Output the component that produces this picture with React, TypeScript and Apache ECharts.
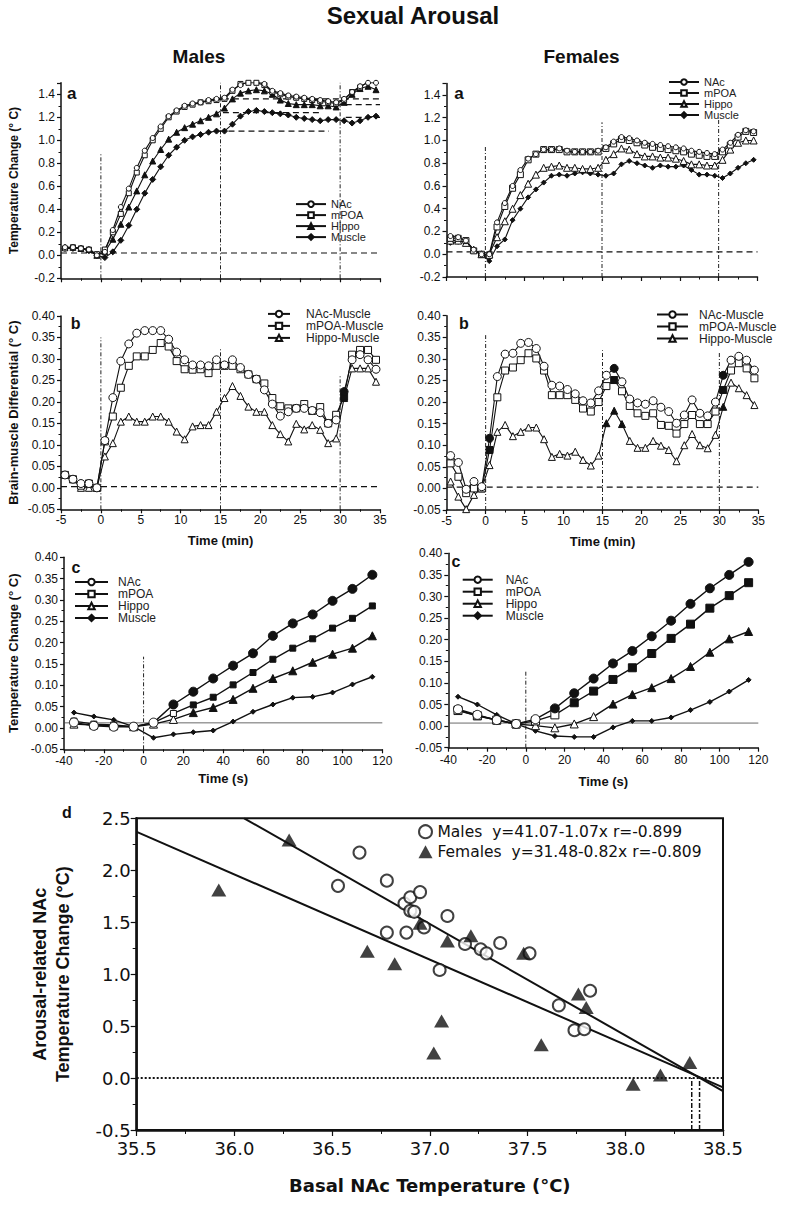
import React, { useEffect, useRef } from "react";
import * as echarts from "echarts";

// ---------- DATA ----------
const tMin = [-4.5, -3.5, -2.5, -1.5, -0.5, 0.5, 1.5, 2.5, 3.5, 4.5, 5.5, 6.5, 7.5, 8.5, 9.5, 10.5, 11.5, 12.5, 13.5, 14.5, 15.5, 16.5, 17.5, 18.5, 19.5, 20.5, 21.5, 22.5, 23.5, 24.5, 25.5, 26.5, 27.5, 28.5, 29.5, 30.5, 31.5, 32.5, 33.5, 34.5];
const tSec = [-35, -25, -15, -5, 5, 15, 25, 35, 45, 55, 65, 75, 85, 95, 105, 115];

// panel a, males (temperature change, °C)
const aMaleNAc = [0.07, 0.07, 0.06, 0.05, 0.0, 0.03, 0.22, 0.42, 0.58, 0.76, 0.91, 1.02, 1.12, 1.21, 1.26, 1.3, 1.32, 1.33, 1.35, 1.36, 1.37, 1.44, 1.48, 1.51, 1.51, 1.49, 1.43, 1.41, 1.39, 1.38, 1.37, 1.36, 1.35, 1.34, 1.33, 1.36, 1.42, 1.47, 1.5, 1.5];
const aMaleMPOA = [0.06, 0.07, 0.06, 0.05, 0.01, 0.05, 0.2, 0.36, 0.54, 0.72, 0.87, 1.0, 1.1, 1.2, 1.25, 1.29, 1.31, 1.33, 1.34, 1.35, 1.36, 1.43, 1.49, 1.5, 1.5, 1.48, 1.42, 1.4, 1.38, 1.37, 1.36, 1.35, 1.34, 1.33, 1.32, 1.35, 1.42, 1.46, 1.51, 1.51];
const aMaleHippo = [0.07, 0.07, 0.06, 0.05, 0.0, 0.03, 0.14, 0.27, 0.42, 0.56, 0.7, 0.82, 0.92, 1.01, 1.07, 1.11, 1.14, 1.17, 1.2, 1.23, 1.28, 1.36, 1.41, 1.43, 1.44, 1.43, 1.4, 1.35, 1.32, 1.31, 1.31, 1.31, 1.3, 1.3, 1.29, 1.33, 1.4, 1.45, 1.47, 1.44];
const aMaleMuscle = [0.06, 0.06, 0.06, 0.04, 0.0, -0.02, 0.03, 0.13, 0.26, 0.4, 0.54, 0.66, 0.77, 0.87, 0.94, 1.0, 1.03, 1.05, 1.07, 1.08, 1.08, 1.14, 1.21, 1.25, 1.26, 1.25, 1.24, 1.23, 1.22, 1.2, 1.19, 1.18, 1.17, 1.18, 1.18, 1.17, 1.15, 1.17, 1.2, 1.21];

// panel a, females
const aFemaleNAc = [0.16, 0.15, 0.12, 0.04, 0.0, 0.0, 0.28, 0.45, 0.6, 0.74, 0.84, 0.88, 0.92, 0.92, 0.93, 0.91, 0.9, 0.9, 0.9, 0.91, 0.94, 0.99, 1.03, 1.02, 1.0, 0.98, 0.97, 0.96, 0.95, 0.94, 0.93, 0.91, 0.9, 0.89, 0.88, 0.92, 0.98, 1.05, 1.09, 1.08];
const aFemaleMPOA = [0.14, 0.14, 0.12, 0.03, 0.0, -0.01, 0.24, 0.42, 0.58, 0.7, 0.83, 0.88, 0.92, 0.92, 0.92, 0.9, 0.9, 0.9, 0.9, 0.9, 0.93, 0.97, 1.01, 1.0, 0.98, 0.96, 0.94, 0.93, 0.92, 0.91, 0.9, 0.88, 0.87, 0.86, 0.86, 0.9, 0.96, 1.03, 1.08, 1.07];
const aFemaleHippo = [0.12, 0.12, 0.1, 0.04, 0.0, 0.0, 0.15, 0.29, 0.4, 0.52, 0.62, 0.7, 0.76, 0.77, 0.78, 0.76, 0.76, 0.75, 0.75, 0.76, 0.83, 0.88, 0.93, 0.92, 0.88, 0.86, 0.86, 0.85, 0.85, 0.84, 0.82, 0.79, 0.79, 0.78, 0.78, 0.83, 0.92, 0.98, 1.0, 1.0];
const aFemaleMuscle = [0.1, 0.11, 0.11, 0.04, 0.0, -0.06, 0.07, 0.13, 0.3, 0.4, 0.5, 0.57, 0.63, 0.69, 0.7, 0.69, 0.71, 0.72, 0.71, 0.7, 0.69, 0.71, 0.79, 0.82, 0.8, 0.78, 0.76, 0.78, 0.77, 0.77, 0.78, 0.74, 0.7, 0.7, 0.69, 0.67, 0.71, 0.76, 0.8, 0.83];

// panel b, males (brain-muscle differential, °C)
const bMaleNAc = [0.03, 0.02, 0.01, 0.01, 0.0, 0.11, 0.21, 0.295, 0.335, 0.36, 0.366, 0.366, 0.366, 0.346, 0.316, 0.298, 0.286, 0.286, 0.284, 0.298, 0.286, 0.298, 0.28, 0.264, 0.253, 0.228, 0.195, 0.167, 0.177, 0.185, 0.185, 0.18, 0.175, 0.15, 0.158, 0.224, 0.298, 0.31, 0.298, 0.276];
const bMaleMPOA = [0.03, 0.02, 0.005, 0.01, 0.0, 0.108, 0.166, 0.233, 0.284, 0.306, 0.306, 0.321, 0.337, 0.329, 0.295, 0.276, 0.275, 0.276, 0.267, 0.284, 0.284, 0.284, 0.276, 0.264, 0.253, 0.243, 0.209, 0.19, 0.185, 0.185, 0.195, 0.179, 0.188, 0.15, 0.17, 0.212, 0.31, 0.321, 0.321, 0.298];
const bMaleHippo = [0.03, 0.02, 0.0, 0.0, 0.0, 0.073, 0.104, 0.154, 0.166, 0.154, 0.154, 0.166, 0.166, 0.154, 0.131, 0.113, 0.143, 0.146, 0.146, 0.177, 0.209, 0.237, 0.214, 0.189, 0.177, 0.177, 0.146, 0.125, 0.108, 0.149, 0.136, 0.146, 0.135, 0.104, 0.115, 0.209, 0.278, 0.278, 0.278, 0.247];

// panel b, females
const bFemaleNAc = [0.076, 0.06, -0.002, 0.016, 0.004, 0.116, 0.259, 0.311, 0.313, 0.336, 0.338, 0.324, 0.283, 0.239, 0.237, 0.229, 0.219, 0.203, 0.198, 0.226, 0.262, 0.278, 0.247, 0.207, 0.198, 0.195, 0.203, 0.188, 0.178, 0.151, 0.17, 0.205, 0.174, 0.168, 0.2, 0.262, 0.297, 0.306, 0.297, 0.274];
const bFemaleMPOA = [0.058, 0.027, -0.011, 0.0, 0.0, 0.089, 0.211, 0.273, 0.28, 0.297, 0.313, 0.301, 0.273, 0.216, 0.216, 0.216, 0.205, 0.185, 0.178, 0.2, 0.237, 0.251, 0.225, 0.191, 0.174, 0.168, 0.174, 0.147, 0.145, 0.127, 0.149, 0.17, 0.149, 0.149, 0.178, 0.228, 0.273, 0.29, 0.278, 0.255];
const bFemaleHippo = [0.016, -0.019, -0.048, -0.015, 0.0, 0.054, 0.131, 0.147, 0.121, 0.131, 0.141, 0.141, 0.114, 0.073, 0.08, 0.076, 0.085, 0.066, 0.053, 0.076, 0.151, 0.18, 0.149, 0.11, 0.094, 0.094, 0.11, 0.099, 0.089, 0.063, 0.1, 0.126, 0.1, 0.093, 0.124, 0.189, 0.245, 0.232, 0.216, 0.193];
// indices of filled (significant) markers in panel b
const bMaleSig = [[35], [35], [35]];
const bFemaleSig = [[5, 21, 35], [5, 21, 35], [20, 21, 22, 35]];

// panel c, males (temperature change, °C, per 10 s)
const cMaleNAc = [0.013, 0.005, 0.003, 0.003, 0.0125, 0.055, 0.085, 0.116, 0.146, 0.175, 0.216, 0.245, 0.266, 0.298, 0.326, 0.359];
const cMaleMPOA = [0.016, 0.009, 0.007, 0.003, 0.0125, 0.034, 0.054, 0.072, 0.101, 0.13, 0.161, 0.187, 0.209, 0.234, 0.257, 0.286];
const cMaleHippo = [0.009, 0.007, 0.005, 0.003, 0.009, 0.02, 0.036, 0.048, 0.067, 0.093, 0.116, 0.134, 0.154, 0.173, 0.187, 0.216];
const cMaleMuscle = [0.036, 0.027, 0.019, 0.003, -0.023, -0.015, -0.01, -0.006, 0.015, 0.038, 0.055, 0.071, 0.073, 0.083, 0.102, 0.12];
// panel c, females
const cFemaleNAc = [0.039, 0.026, 0.014, 0.005, 0.016, 0.041, 0.076, 0.11, 0.145, 0.174, 0.208, 0.244, 0.283, 0.319, 0.35, 0.38];
const cFemaleMPOA = [0.037, 0.024, 0.014, 0.005, 0.012, 0.026, 0.054, 0.081, 0.108, 0.135, 0.168, 0.203, 0.236, 0.273, 0.302, 0.332];
const cFemaleHippo = [0.036, 0.024, 0.014, 0.005, 0.001, -0.004, 0.005, 0.022, 0.051, 0.073, 0.089, 0.11, 0.138, 0.171, 0.202, 0.219];
const cFemaleMuscle = [0.068, 0.05, 0.026, 0.005, -0.011, -0.023, -0.025, -0.025, -0.003, 0.012, 0.012, 0.02, 0.037, 0.056, 0.08, 0.107];
// first significant (filled) index for NAc, mPOA, Hippo
const cMaleSigFrom = [5, 6, 6];
const cFemaleSigFrom = [5, 6, 8];

// panel d
const dMaleX = [36.53, 36.64, 36.78, 36.78, 36.87, 36.9, 36.95, 36.9, 36.92, 36.88, 36.97, 37.09, 37.05, 37.18, 37.26, 37.29, 37.36, 37.51, 37.66, 37.82, 37.74, 37.79];
const dMaleY = [1.85, 2.17, 1.9, 1.4, 1.68, 1.74, 1.79, 1.61, 1.6, 1.4, 1.45, 1.56, 1.04, 1.29, 1.24, 1.2, 1.3, 1.2, 0.7, 0.84, 0.46, 0.47];
const dFemaleX = [35.92, 36.28, 36.68, 36.82, 36.95, 37.09, 37.21, 37.48, 37.06, 37.02, 37.57, 37.76, 37.8, 38.04, 38.18, 38.33];
const dFemaleY = [1.81, 2.29, 1.22, 1.1, 1.49, 1.32, 1.37, 1.2, 0.55, 0.24, 0.32, 0.81, 0.68, -0.06, 0.03, 0.15];
const dMaleFit = [[36.05, 2.5], [38.5, -0.125]];
const dFemaleFit = [[35.5, 2.37], [38.5, -0.09]];
const dLegendText = ["Males  y=41.07-1.07x r=-0.899", "Females  y=31.48-0.82x r=-0.809"];

// reference lines: vertical [x, top], horizontal [x1, x2, y]
const aMaleVLines = [[0, 0.88], [15, 1.5], [30, 1.5]];
const aFemaleVLines = [[0, 0.95], [15, 1.16], [30, 1.18]];
const bMaleVLines = [[0, 0.35], [15, 0.325], [30, 0.263]];
const bFemaleVLines = [[0, 0.355], [15, 0.32], [30, 0.316]];
const cMaleVLines = [[0, 0.167]];
const cFemaleVLines = [[0, 0.13]];
const dVLines = [[38.34, 0], [38.38, 0]];
const aMaleHLines = [[-5, 35, 0.02], [15.3, 35, 1.36], [30.7, 35, 1.31], [15.3, 27.8, 1.24], [30.7, 35, 1.2], [16, 28.6, 1.08]];
const aFemaleHLines = [[-5, 35, 0.02]];
const bHLines = [[-5, 35, 0.003]];
const cMaleHLines = [[-40, 120, 0.012]];
const cFemaleHLines = [[-40, 120, 0.007]];
const dHLines = [[35.5, 38.5, 0]];

// ---------- STYLE / BUILDERS ----------
const FONT = "'Liberation Sans', Arial, Helvetica, sans-serif";
const DV = "'DejaVu Sans', sans-serif";
const INK = "#111";

const fmt = (d: number) => (v: number) => (Math.abs(v) < 1e-9 ? 0 : v).toFixed(d);

function xAxis(gi: number, min: number, max: number, interval: number, o: any = {}) {
  return {
    type: "value", gridIndex: gi, min, max, interval,
    axisLine: { show: true, onZero: false, lineStyle: { color: INK, width: o.lw || 1.5 } },
    axisTick: { show: true, inside: false, length: o.tl || 4, lineStyle: { color: INK, width: 1.2 } },
    minorTick: { show: true, splitNumber: 2, length: o.ml || 2.5, lineStyle: { color: INK, width: 1 } },
    splitLine: { show: false }, minorSplitLine: { show: false },
    axisLabel: {
      show: o.labels !== false, color: INK, fontSize: o.fs || 12, fontFamily: o.ff || FONT,
      margin: o.margin || 5, formatter: o.formatter, hideOverlap: false, lineHeight: o.lh,
    },
    name: o.name || "", nameLocation: "middle", nameGap: o.nameGap || 25,
    nameTextStyle: { color: INK, fontFamily: o.nff || FONT, fontWeight: "bold", fontSize: o.nfs || 13 },
  };
}

function yAxis(gi: number, min: number, max: number, interval: number, o: any = {}) {
  return {
    type: "value", gridIndex: gi, min, max, interval,
    axisLine: { show: true, onZero: false, lineStyle: { color: INK, width: o.lw || 1.5 } },
    axisTick: { show: true, inside: false, length: o.tl || 4, lineStyle: { color: INK, width: 1.2 } },
    minorTick: { show: true, splitNumber: 2, length: o.ml || 2.5, lineStyle: { color: INK, width: 1 } },
    splitLine: { show: false }, minorSplitLine: { show: false },
    axisLabel: {
      show: true, color: INK, fontSize: o.fs || 12, fontFamily: o.ff || FONT,
      margin: o.margin || 6, formatter: fmt(o.dec), showMaxLabel: o.showMax !== false, hideOverlap: false,
      lineHeight: o.lh,
    },
    name: o.name || "", nameLocation: "middle", nameRotate: 90, nameGap: o.nameGap || 41,
    nameTextStyle: { color: INK, fontFamily: FONT, fontWeight: "bold", fontSize: o.nfs || 12, lineHeight: o.nlh },
  };
}

type Sym = { symbol: string; size: number; open: boolean; filled?: (i: number) => boolean };

function dataSeries(name: string, gi: number, xs: number[], ys: number[], s: Sym, lw = 1.1, z = 3) {
  return {
    type: "line", name, xAxisIndex: gi, yAxisIndex: gi, z,
    data: xs.map((x, i) =>
      s.filled && s.filled(i) ? { value: [x, ys[i]], itemStyle: { color: INK } } : [x, ys[i]]
    ),
    symbol: s.symbol, symbolSize: s.size, showSymbol: true,
    lineStyle: { color: INK, width: lw },
    itemStyle: { color: s.open ? "#fff" : INK, borderColor: INK, borderWidth: 1 },
    emphasis: { disabled: true }, silent: true,
  };
}

function vLines(gi: number, lines: number[][], bottom: number, style: any) {
  return lines.map(([x, top], k) => ({
    type: "line", name: `v${gi}-${k}`, xAxisIndex: gi, yAxisIndex: gi, z: 1,
    data: [[x, bottom], [x, top]], symbol: "none", silent: true, lineStyle: style,
  }));
}
function hLines(gi: number, lines: number[][], style: any) {
  return lines.map(([x1, x2, y], k) => ({
    type: "line", name: `h${gi}-${k}`, xAxisIndex: gi, yAxisIndex: gi, z: 1,
    data: [[x1, y], [x2, y]], symbol: "none", silent: true, lineStyle: style,
  }));
}

const dashDot = { color: "#222", width: 1, type: [4, 2, 1, 2] };
const dashed = { color: INK, width: 1.2, type: [6, 4] };

function legend(left: number, top: number, names: string[], o: any = {}) {
  return {
    left, top, orient: "vertical", padding: 0, itemGap: o.gap ?? 0,
    itemWidth: o.iw || 30, itemHeight: o.ih || 7, selectedMode: false,
    data: names, formatter: (n: string) => n.split(":")[1],
    textStyle: { fontFamily: FONT, fontSize: o.fs || 11, lineHeight: o.lh || 10.7, color: "#222", padding: o.pad || 0 },
  };
}

const grids = [
  { left: 61, top: 82.8, width: 319, height: 195.5 },
  { left: 446.5, top: 83.6, width: 311, height: 193.4 },
  { left: 61, top: 316, width: 319, height: 193.3 },
  { left: 446.7, top: 315.7, width: 311.6, height: 194.3 },
  { left: 64, top: 557.3, width: 318.3, height: 192 },
  { left: 448.3, top: 553.3, width: 310, height: 194.4 },
  { left: 136.7, top: 818.3, width: 586.3, height: 311.7, show: true, borderColor: INK, borderWidth: 2, backgroundColor: "transparent" },
];

const bSym = (sig: number[]) => (i: number) => sig.includes(i);
const fromIdx = (k: number) => (i: number) => i >= k;

function buildOption() {
  const series: any[] = [];
  // reference lines
  series.push(...vLines(0, aMaleVLines, -0.2, dashDot), ...hLines(0, aMaleHLines, dashed));
  series.push(...vLines(1, aFemaleVLines, -0.2, dashDot), ...hLines(1, aFemaleHLines, dashed));
  series.push(...vLines(2, bMaleVLines, -0.05, dashDot), ...hLines(2, bHLines, dashed));
  series.push(...vLines(3, bFemaleVLines, -0.05, dashDot), ...hLines(3, bHLines, dashed));
  series.push(...vLines(4, cMaleVLines, -0.05, dashDot), ...hLines(4, cMaleHLines, { color: "#444", width: 0.8 }));
  series.push(...vLines(5, cFemaleVLines, -0.05, dashDot), ...hLines(5, cFemaleHLines, { color: "#444", width: 0.8 }));
  series.push(...vLines(6, dVLines, -0.5, { color: INK, width: 1.5, type: [5, 2, 2, 2] }), ...hLines(6, dHLines, { color: INK, width: 2, type: [2, 2] }));

  // panel a
  series.push(
    dataSeries("aM:Muscle", 0, tMin, aMaleMuscle, { symbol: "diamond", size: 6, open: false }),
    dataSeries("aM:Hippo", 0, tMin, aMaleHippo, { symbol: "triangle", size: 6, open: false }),
    dataSeries("aM:mPOA", 0, tMin, aMaleMPOA, { symbol: "rect", size: 5, open: true }),
    dataSeries("aM:NAc", 0, tMin, aMaleNAc, { symbol: "circle", size: 5, open: true }),
    dataSeries("aF:Muscle", 1, tMin, aFemaleMuscle, { symbol: "diamond", size: 5, open: false }),
    dataSeries("aF:Hippo", 1, tMin, aFemaleHippo, { symbol: "triangle", size: 7, open: true }),
    dataSeries("aF:mPOA", 1, tMin, aFemaleMPOA, { symbol: "rect", size: 6, open: true }),
    dataSeries("aF:NAc", 1, tMin, aFemaleNAc, { symbol: "circle", size: 5, open: true }),
  );
  // panel b
  series.push(
    dataSeries("bM:Hippo-Muscle", 2, tMin, bMaleHippo, { symbol: "triangle", size: 7, open: true, filled: bSym(bMaleSig[2]) }),
    dataSeries("bM:mPOA-Muscle", 2, tMin, bMaleMPOA, { symbol: "rect", size: 7, open: true, filled: bSym(bMaleSig[1]) }),
    dataSeries("bM:NAc-Muscle", 2, tMin, bMaleNAc, { symbol: "circle", size: 8, open: true, filled: bSym(bMaleSig[0]) }),
    dataSeries("bF:Hippo-Muscle", 3, tMin, bFemaleHippo, { symbol: "triangle", size: 7, open: true, filled: bSym(bFemaleSig[2]) }),
    dataSeries("bF:mPOA-Muscle", 3, tMin, bFemaleMPOA, { symbol: "rect", size: 7, open: true, filled: bSym(bFemaleSig[1]) }),
    dataSeries("bF:NAc-Muscle", 3, tMin, bFemaleNAc, { symbol: "circle", size: 8, open: true, filled: bSym(bFemaleSig[0]) }),
  );
  // panel c
  series.push(
    dataSeries("cM:Muscle", 4, tSec, cMaleMuscle, { symbol: "diamond", size: 5, open: false }, 1.4),
    dataSeries("cM:Hippo", 4, tSec, cMaleHippo, { symbol: "triangle", size: 8, open: true, filled: fromIdx(cMaleSigFrom[2]) }, 1.4),
    dataSeries("cM:mPOA", 4, tSec, cMaleMPOA, { symbol: "rect", size: 6, open: true, filled: fromIdx(cMaleSigFrom[1]) }, 1.4),
    dataSeries("cM:NAc", 4, tSec, cMaleNAc, { symbol: "circle", size: 9, open: true, filled: fromIdx(cMaleSigFrom[0]) }, 1.4),
    dataSeries("cF:Muscle", 5, tSec, cFemaleMuscle, { symbol: "diamond", size: 5, open: false }, 1.4),
    dataSeries("cF:Hippo", 5, tSec, cFemaleHippo, { symbol: "triangle", size: 8, open: true, filled: fromIdx(cFemaleSigFrom[2]) }, 1.4),
    dataSeries("cF:mPOA", 5, tSec, cFemaleMPOA, { symbol: "rect", size: 8, open: true, filled: fromIdx(cFemaleSigFrom[1]) }, 1.4),
    dataSeries("cF:NAc", 5, tSec, cFemaleNAc, { symbol: "circle", size: 9, open: true, filled: fromIdx(cFemaleSigFrom[0]) }, 1.4),
  );
  // panel d
  series.push(
    { type: "line", name: "fitM", xAxisIndex: 6, yAxisIndex: 6, data: dMaleFit, symbol: "none", silent: true, lineStyle: { color: INK, width: 2 }, z: 2 },
    { type: "line", name: "fitF", xAxisIndex: 6, yAxisIndex: 6, data: dFemaleFit, symbol: "none", silent: true, lineStyle: { color: INK, width: 2 }, z: 2 },
    {
      type: "scatter", name: "d:Males", xAxisIndex: 6, yAxisIndex: 6, z: 4, silent: true,
      data: dMaleX.map((x, i) => [x, dMaleY[i]]), symbol: "circle", symbolSize: 12,
      itemStyle: { color: "#fff", borderColor: INK, borderWidth: 2 },
    },
    {
      type: "scatter", name: "d:Females", xAxisIndex: 6, yAxisIndex: 6, z: 4, silent: true,
      data: dFemaleX.map((x, i) => [x, dFemaleY[i]]), symbol: "triangle", symbolSize: [15, 13],
      itemStyle: { color: INK, borderColor: INK, borderWidth: 0 },
    },
  );

  const heading = (text: string, x: number, y: number, size: number) => ({
    type: "text", x, y, silent: true,
    style: { text, align: "center", verticalAlign: "middle", font: `bold ${size}px ${FONT}`, fill: INK },
  });

  return {
    animation: false,
    backgroundColor: "#fff",
    textStyle: { fontFamily: FONT },
    grid: grids,
    xAxis: [
      xAxis(0, -5, 35, 5, { labels: false }),
      xAxis(1, -5, 35, 5, { labels: false }),
      xAxis(2, -5, 35, 5, { name: "Time (min)", nameGap: 25, formatter: fmt(0) }),
      xAxis(3, -5, 35, 5, { name: "Time (min)", nameGap: 25, formatter: fmt(0) }),
      xAxis(4, -40, 120, 20, { name: "Time (s)", nameGap: 23, formatter: fmt(0), margin: 6 }),
      xAxis(5, -40, 120, 20, { name: "Time (s)", nameGap: 27, formatter: fmt(0), margin: 6 }),
      xAxis(6, 35.5, 38.5, 0.5, {
        name: "Basal NAc Temperature (°C)", nameGap: 46, nff: DV, nfs: 18,
        ff: DV, fs: 18, lh: 12, margin: 12, formatter: fmt(1), lw: 2.5, tl: 6, ml: 4,
      }),
    ],
    yAxis: [
      yAxis(0, -0.2, 1.5, 0.2, { dec: 1, showMax: false, name: "Temperature Change (° C)", nameGap: 41 }),
      yAxis(1, -0.2, 1.5, 0.2, { dec: 1, showMax: false }),
      yAxis(2, -0.05, 0.4, 0.05, { dec: 2, name: "Brain-muscle Differential (° C)", nameGap: 41, nfs: 13 }),
      yAxis(3, -0.05, 0.4, 0.05, { dec: 2 }),
      yAxis(4, -0.05, 0.4, 0.05, { dec: 2, name: "Temperature Change (° C)", nameGap: 44, nfs: 13 }),
      yAxis(5, -0.05, 0.4, 0.05, { dec: 2 }),
      yAxis(6, -0.5, 2.5, 0.5, {
        dec: 1, ff: DV, fs: 18, lh: 12, margin: 6, lw: 2.5, tl: 6, ml: 4,
        name: "Arousal-related NAc\nTemperature Change (°C)", nameGap: 62, nfs: 18, nlh: 23,
      }),
    ],
    legend: [
      legend(295, 198.6, ["aM:NAc", "aM:mPOA", "aM:Hippo", "aM:Muscle"], { iw: 30 }),
      legend(668, 76.5, ["aF:NAc", "aF:mPOA", "aF:Hippo", "aF:Muscle"], { iw: 30, lh: 10.5 }),
      legend(267, 307.9, ["bM:NAc-Muscle", "bM:mPOA-Muscle", "bM:Hippo-Muscle"], { iw: 22, ih: 8, fs: 12, lh: 10.8, pad: [0, 0, 0, 11] }),
      legend(656, 308.5, ["bF:NAc-Muscle", "bF:mPOA-Muscle", "bF:Hippo-Muscle"], { iw: 31, ih: 8, fs: 12, lh: 11.5, pad: [0, 0, 0, 6] }),
      legend(74, 576, ["cM:NAc", "cM:mPOA", "cM:Hippo", "cM:Muscle"], { iw: 33, ih: 8, fs: 12, lh: 11.1, pad: [0, 0, 0, 5] }),
      legend(461.7, 573.7, ["cF:NAc", "cF:mPOA", "cF:Hippo", "cF:Muscle"], { iw: 30, ih: 8, fs: 12, lh: 11.3, pad: [0, 0, 0, 8] }),
      {
        left: 418, top: 822.7, orient: "vertical", padding: 0, itemGap: 2, itemWidth: 14, itemHeight: 13,
        selectedMode: false, data: ["d:Males", "d:Females"],
        formatter: (n: string) => (n === "d:Males" ? dLegendText[0] : dLegendText[1]),
        textStyle: { fontFamily: DV, fontSize: 15.5, lineHeight: 18, color: INK },
      },
    ],
    graphic: [
      heading("Sexual Arousal", 413, 15, 24),
      heading("Males", 199, 56.5, 19),
      heading("Females", 581.5, 56.5, 19),
      heading("a", 71.7, 93.3, 17),
      heading("a", 459, 93, 17),
      heading("b", 75.7, 323.3, 16),
      heading("b", 464, 323, 16),
      heading("c", 76, 567.3, 16),
      heading("c", 456, 561.7, 16),
      heading("d", 67, 812, 16),
    ],
    series,
  };
}

export default function App() {
  const ref = useRef<HTMLDivElement>(null);
  useEffect(() => {
    document.body.style.margin = "0";
    const chart = echarts.init(ref.current as HTMLDivElement, null, { renderer: "svg" });
    chart.setOption(buildOption() as any);
    return () => chart.dispose();
  }, []);
  return <div ref={ref} style={{ width: 800, height: 1207, background: "#fff" }} />;
}
